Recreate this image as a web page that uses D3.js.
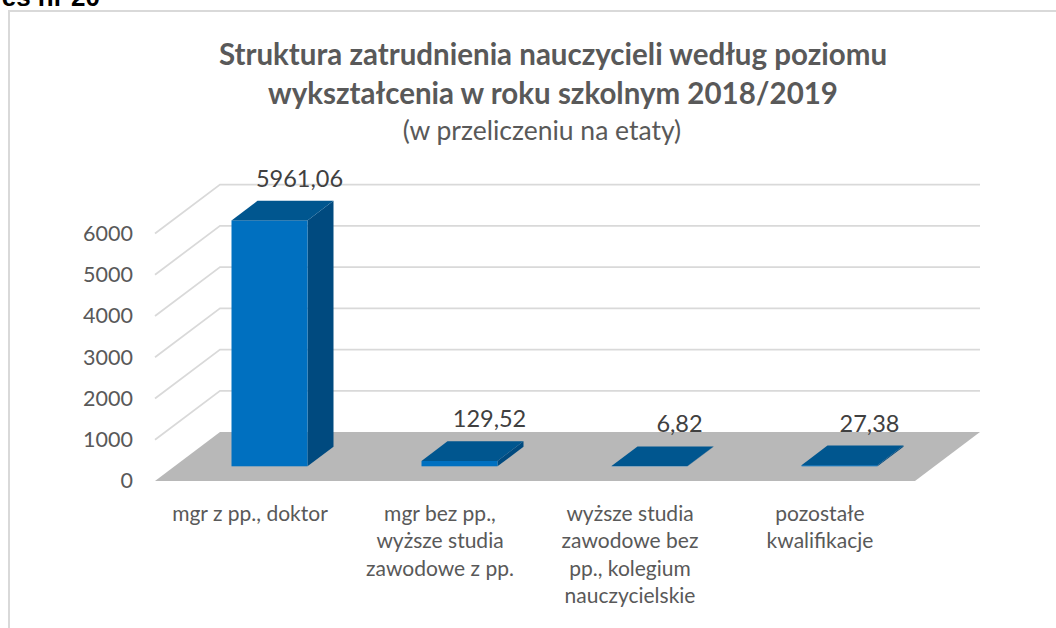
<!DOCTYPE html>
<html>
<head>
<meta charset="utf-8">
<script src="https://cdn.jsdelivr.net/npm/d3@7"></script>
<style>
  body { margin: 0; background: #fff; }
  svg { display: block; font-family: Lato, "Open Sans", sans-serif; }
</style>
</head>
<body>
<div id="chart"></div>
<script>
// data
const categories = [
    ["mgr z pp., doktor"],
    ["mgr bez pp.,", "wyższe studia", "zawodowe z pp."],
    ["wyższe studia", "zawodowe bez", "pp., kolegium", "nauczycielskie"],
    ["pozostałe", "kwalifikacje"]
]
const values = [5961.06, 129.52, 6.82, 27.38]
const yTicks = [0, 1000, 2000, 3000, 4000, 5000, 6000]
const titleLines = ["Struktura zatrudnienia nauczycieli według poziomu", "wykształcenia w roku szkolnym 2018/2019"]
const subtitle = "(w przeliczeniu na etaty)"

let width = 1056
let height = 628

// oblique depth of the floor
const DX = 65, DY = -49

const pl = d3.formatLocale({decimal: ",", thousands: " ", grouping: [3], currency: ["", ""]})
const fmt = pl.format(".2f")

let svg = d3.select("#chart")
    .append("svg")
        .attr("width", width)
        .attr("height", height)

// page header, cut off at the top like in the source
svg.append("text")
    .attr("x", 100)
    .attr("y", 6)
    .attr("text-anchor", "end")
    .style("font-family", "'Liberation Sans', Arial, sans-serif")
    .style("font-weight", "bold")
    .style("font-size", "26px")
    .attr("fill", "#000")
    .text("Wykres nr 20")

// chart frame
svg.append("rect")
    .attr("x", 9)
    .attr("y", 11)
    .attr("width", 1100)
    .attr("height", 700)
    .attr("fill", "none")
    .attr("stroke", "#d9d9d9")
    .attr("stroke-width", 2)

let x = d3.scaleBand()
    .domain(d3.range(values.length))
    .range([155, 915])
    .paddingInner(0.6)
    .paddingOuter(0.3)

let y = d3.scaleLinear()
    .domain([0, 6000])
    .range([481, 233.5])

const x0 = x.range()[0], x1 = x.range()[1]

// gridlines on side and back wall
svg.selectAll(".grid")
    .data(yTicks.filter(d => d > 0))
    .enter()
    .append("polyline")
        .attr("class", "grid")
        .attr("points", d => [[x0, y(d)], [x0 + DX, y(d) + DY], [x1 + DX, y(d) + DY]].join(" "))
        .attr("fill", "none")
        .attr("stroke", "#d9d9d9")
        .attr("stroke-width", 1.75)

// floor
svg.append("polygon")
    .attr("points", [[x0, y(0)], [x1, y(0)], [x1 + DX, y(0) + DY], [x0 + DX, y(0) + DY]].join(" "))
    .attr("fill", "#b8b8b8")

// y axis labels
let yAxis = d3.axisLeft(y)
    .tickValues(yTicks)
    .tickSize(0)
    .tickPadding(22)
    .tickFormat(d3.format("d"))

let ya = svg.append("g")
    .attr("transform", `translate(${x0}, 0)`)
    .call(yAxis)
ya.select(".domain").remove()
ya.selectAll("text")
    .style("font-family", "Lato, sans-serif")
    .style("font-size", "21.5px")
    .attr("fill", "#595959")

// bars, placed in the middle of the floor depth
const bw = x.bandwidth()
const fx = 0.3 * DX, fy = 0.3 * DY
const ddx = 0.4 * DX, ddy = 0.4 * DY

let bars = svg.selectAll(".bar")
    .data(values)
    .enter()
    .append("g")
        .attr("class", "bar")

bars.append("polygon")
    .attr("points", (d, i) => {
        let bx = x(i) + fx + bw, yt = y(d) + fy, yb = y(0) + fy
        return [[bx, yt], [bx + ddx, yt + ddy], [bx + ddx, yb + ddy], [bx, yb]].join(" ")
    })
    .attr("fill", "#004a7f")

bars.append("rect")
    .attr("x", (d, i) => x(i) + fx)
    .attr("y", d => y(d) + fy)
    .attr("width", bw)
    .attr("height", d => y(0) - y(d))
    .attr("fill", "#0070c0")

bars.append("polygon")
    .attr("points", (d, i) => {
        let bx = x(i) + fx, yt = y(d) + fy
        return [[bx, yt], [bx + ddx, yt + ddy], [bx + bw + ddx, yt + ddy], [bx + bw, yt]].join(" ")
    })
    .attr("fill", "#00568f")

// value labels
svg.selectAll(".val")
    .data(values)
    .enter()
    .append("text")
        .attr("class", "val")
        .attr("x", (d, i) => x(i) + fx + bw / 2 + ddx + 4)
        .attr("y", d => y(d) + fy + ddy - 14)
        .attr("text-anchor", "middle")
        .style("font-size", "23.5px")
        .attr("fill", "#404040")
        .text(d => fmt(d))

// category labels
let cat = svg.selectAll(".cat")
    .data(categories)
    .enter()
    .append("text")
        .attr("class", "cat")
        .attr("text-anchor", "middle")
        .style("font-size", "21px")
        .attr("fill", "#595959")

cat.selectAll("tspan")
    .data((d, i) => d.map(t => ({t: t, i: i})))
    .enter()
    .append("tspan")
        .attr("x", d => x(d.i) + bw / 2)
        .attr("y", (d, j) => 521 + j * 27.3)
        .text(d => d.t)

// title
svg.selectAll(".title")
    .data(titleLines)
    .enter()
    .append("text")
        .attr("class", "title")
        .attr("x", 553)
        .attr("y", (d, i) => 65 + i * 39)
        .attr("text-anchor", "middle")
        .style("font-size", "29.5px")
        .style("font-weight", "bold")
        .attr("fill", "#595959")
        .text(d => d)

svg.append("text")
    .attr("x", 542)
    .attr("y", 140)
    .attr("text-anchor", "middle")
    .style("font-size", "26.5px")
    .attr("fill", "#595959")
    .text(subtitle)
</script>
</body>
</html>
